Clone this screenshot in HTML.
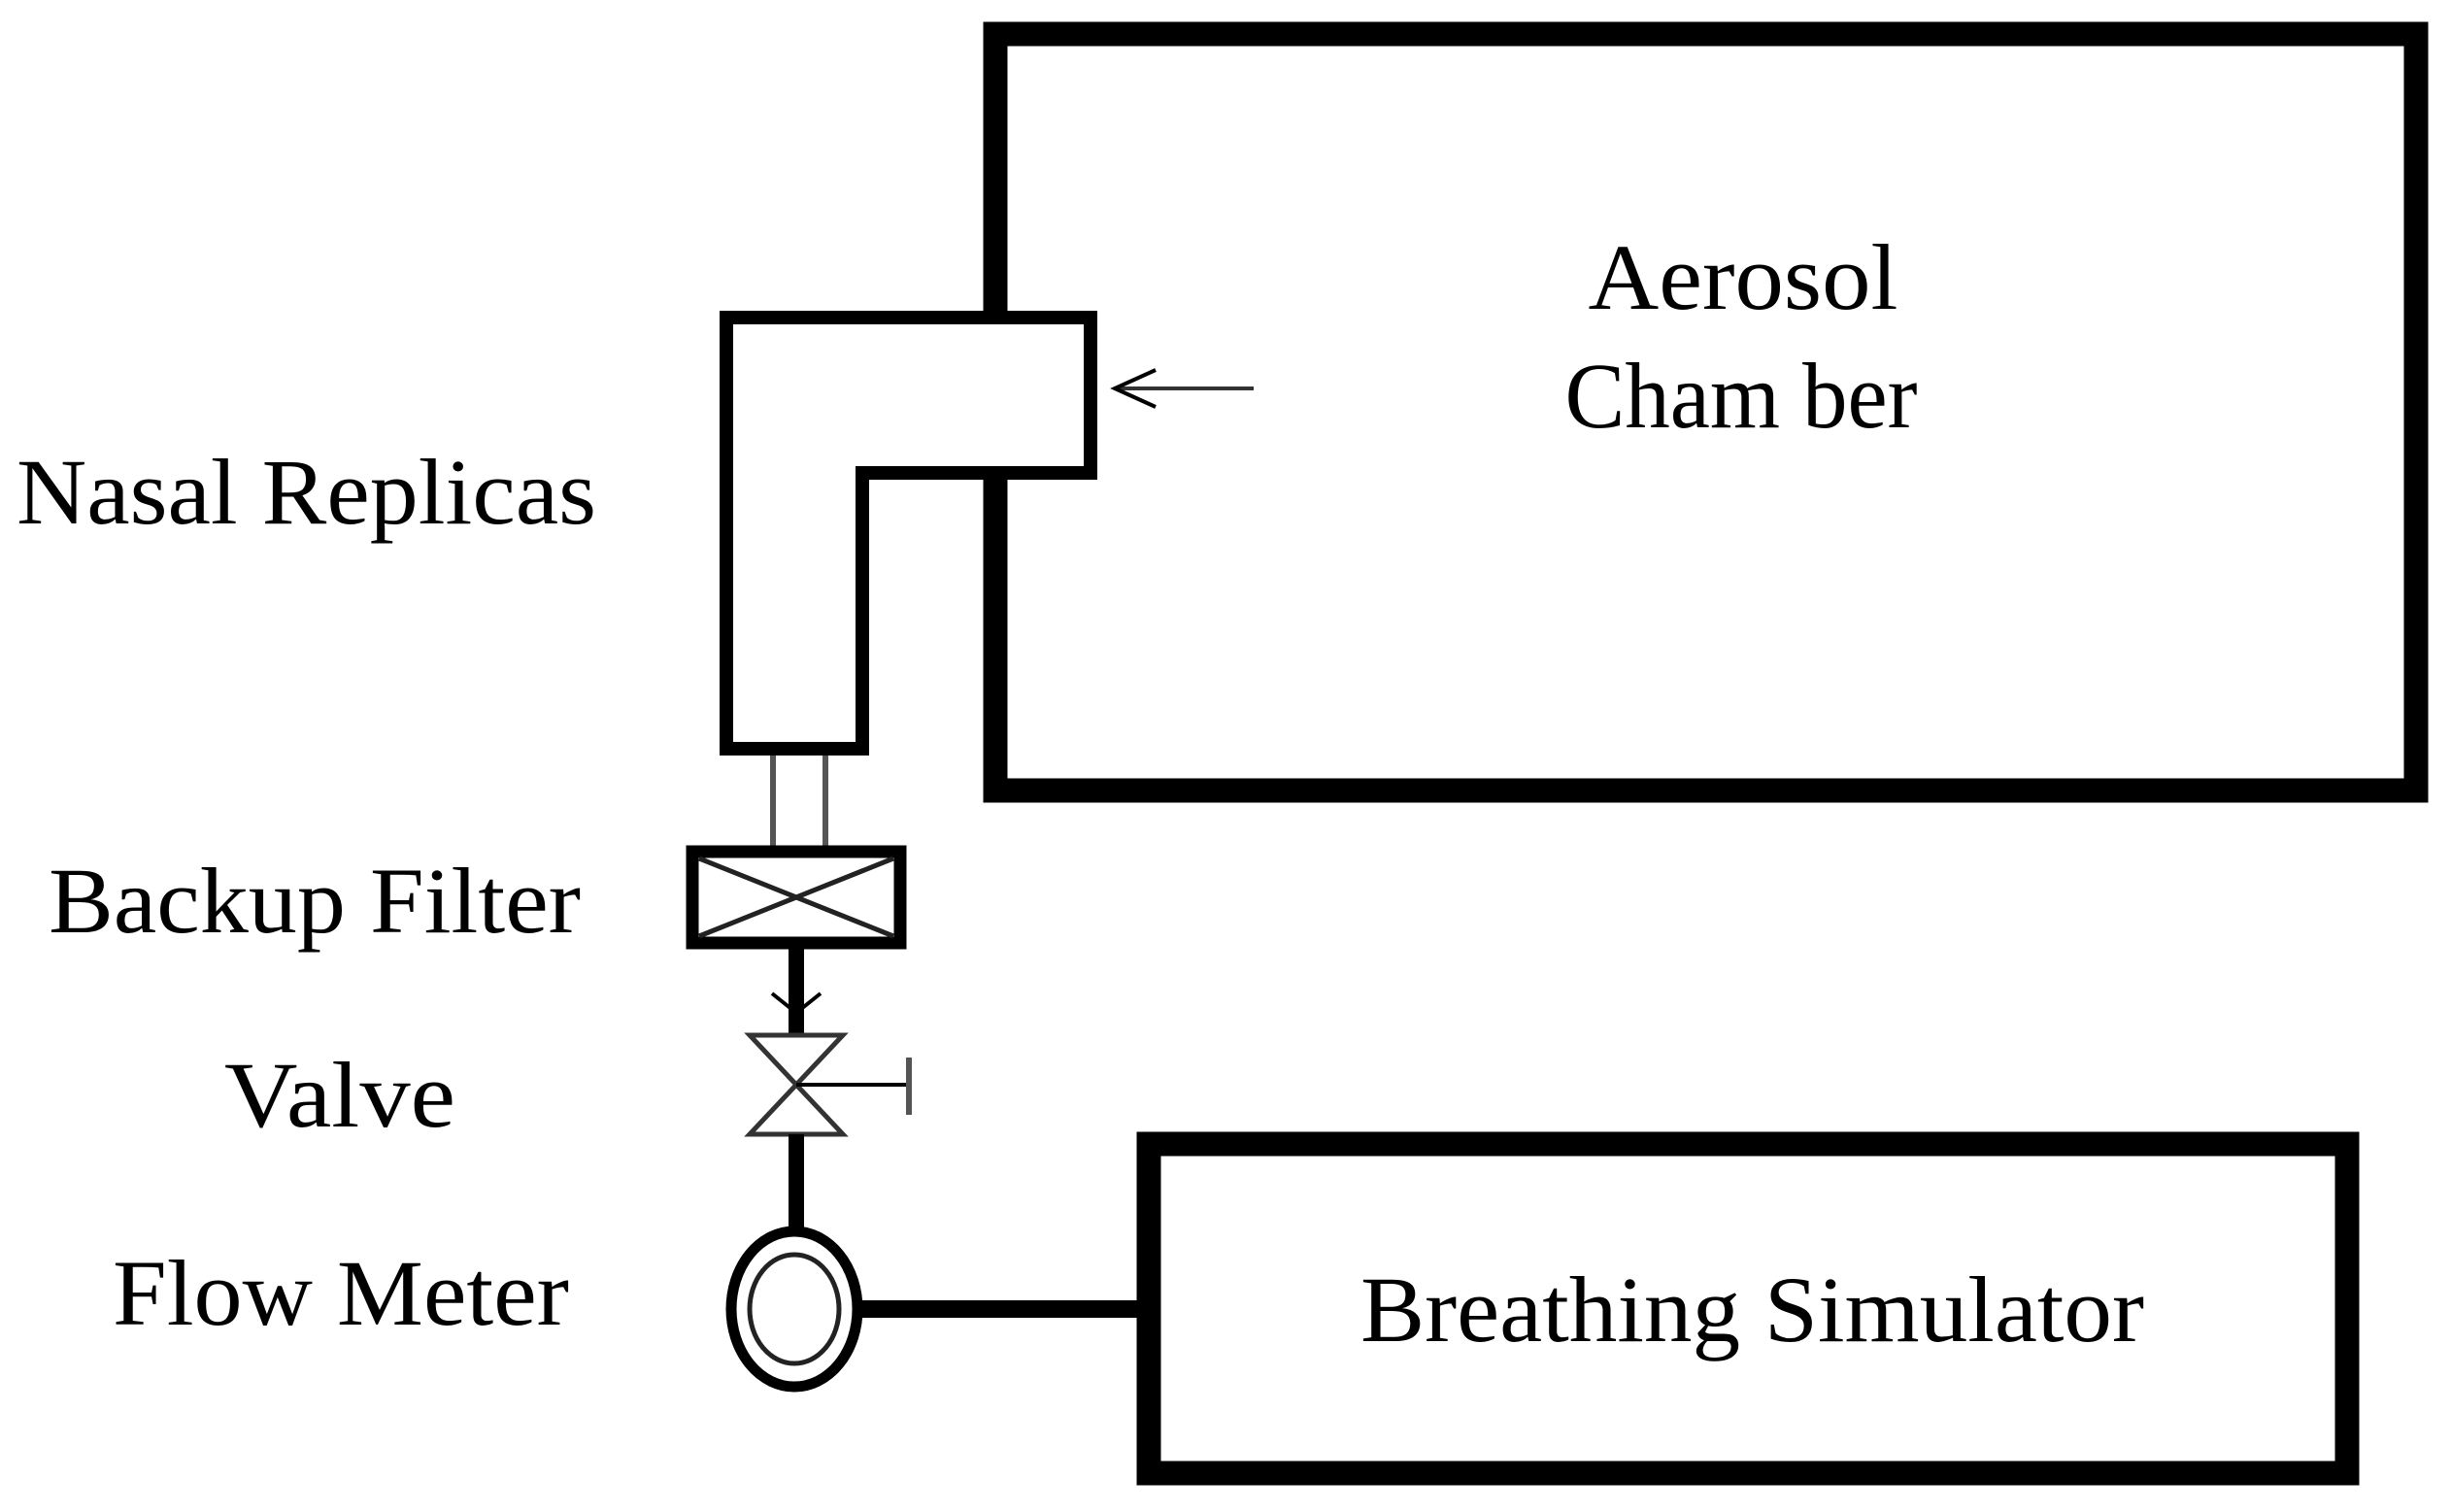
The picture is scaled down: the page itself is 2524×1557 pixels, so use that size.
<!DOCTYPE html>
<html><head><meta charset="utf-8"><style>html,body{margin:0;padding:0;background:#fff;}svg{display:block}</style></head>
<body>
<svg width="2524" height="1557" viewBox="0 0 2524 1557" xmlns="http://www.w3.org/2000/svg">
<rect width="2524" height="1557" fill="#fff"/>
<g fill="none" stroke="#000" stroke-linejoin="miter">
  <rect x="1025" y="35" width="1463" height="779" stroke-width="25"/>
  <path d="M748 327 H1123 V487 H888 V771 H748 Z" fill="#fff" stroke-width="14"/>
  <line x1="1147" y1="400" x2="1291" y2="400" stroke="#333" stroke-width="4"/>
  <path d="M1190 381 L1148 400 L1190 419" stroke-width="4"/>
  <line x1="796" y1="778" x2="796" y2="871" stroke="#555" stroke-width="6"/>
  <line x1="850" y1="778" x2="850" y2="871" stroke="#555" stroke-width="6"/>
  <rect x="713" y="877" width="214" height="94" stroke-width="13"/>
  <path d="M720 884 L920 964 M920 884 L720 964" stroke="#222" stroke-width="5"/>
  <line x1="820" y1="977" x2="820" y2="1068" stroke-width="16"/>
  <path d="M795 1023 L820 1043 L845 1023" stroke-width="4"/>
  <path d="M772 1066 H868 L820 1117 Z M772 1168 H868 L820 1117 Z" stroke="#333" stroke-width="5"/>
  <line x1="820" y1="1117" x2="936" y2="1117" stroke-width="4"/>
  <line x1="936" y1="1089" x2="936" y2="1148" stroke="#555" stroke-width="6"/>
  <line x1="820" y1="1168" x2="820" y2="1264" stroke-width="16"/>
  <ellipse cx="818" cy="1348" rx="65" ry="80" fill="#fff" stroke-width="11"/>
  <ellipse cx="818" cy="1348" rx="46" ry="56" stroke="#222" stroke-width="5"/>
  <line x1="884" y1="1348" x2="1175" y2="1348" stroke-width="18"/>
  <rect x="1183" y="1178" width="1234" height="339" stroke-width="25"/>
</g>
<g font-family="'Liberation Serif', serif" font-size="96" fill="#000">
  <text x="1795" y="318" text-anchor="middle" textLength="319" lengthAdjust="spacingAndGlyphs">Aerosol</text>
  <text x="1793" y="440" text-anchor="middle" textLength="363" lengthAdjust="spacingAndGlyphs">Cham ber</text>
  <text x="17" y="539" textLength="597" lengthAdjust="spacingAndGlyphs">Nasal Replicas</text>
  <text x="50" y="960" textLength="548" lengthAdjust="spacingAndGlyphs">Backup Filter</text>
  <text x="231" y="1160" textLength="238" lengthAdjust="spacingAndGlyphs">Valve</text>
  <text x="116" y="1364" textLength="470" lengthAdjust="spacingAndGlyphs">Flow Meter</text>
  <text x="1401" y="1381" textLength="807" lengthAdjust="spacingAndGlyphs">Breathing Simulator</text>
</g>
</svg>
</body></html>
